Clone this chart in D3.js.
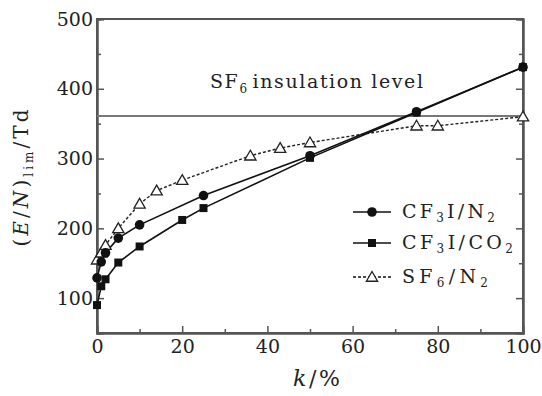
<!DOCTYPE html>
<html>
<head>
<meta charset="utf-8">
<script src="https://cdn.jsdelivr.net/npm/d3@7"></script>
<style>
  body { margin: 0; background: #fff; }
  text { font-family: "DejaVu Serif", "Liberation Serif", serif; fill: #222; }
</style>
</head>
<body>
<div id="chart"></div>
<script>
// data
var kN2 = [0, 1, 2, 5, 10, 25, 50, 75, 100];
var cf3iN2 = [129, 152, 165, 186, 205, 247, 304, 367, 431];
var kCO2 = [0, 1, 2, 5, 10, 20, 25, 50, 75, 100];
var cf3iCO2 = [90, 117, 127, 151, 174, 212, 229, 301, 366, 431];
var kSF6 = [0, 1, 2, 5, 10, 14, 20, 36, 43, 50, 75, 80, 100];
var sf6N2 = [155, 165, 176, 200, 235, 254, 269, 304, 315, 323, 347, 347, 360];
var sf6Level = 361;
var xTicks = [0, 20, 40, 60, 80, 100];
var yTicks = [100, 200, 300, 400, 500];
var seriesNames = ["CF3I/N2", "CF3I/CO2", "SF6/N2"];

var W = 542, H = 396;
var margin = {top: 19, right: 19, bottom: 63, left: 97};
var width = W - margin.left - margin.right;
var height = H - margin.top - margin.bottom;

var svg = d3.select("#chart")
  .append("svg")
    .attr("width", W)
    .attr("height", H)
  .append("g")
    .attr("transform", "translate(" + margin.left + "," + margin.top + ")");

var x = d3.scaleLinear().domain([0, 100]).range([0, width]);
var y = d3.scaleLinear().domain([50, 500]).range([height, 0]);

var axisColor = "#555";

// frame
svg.append("rect")
  .attr("width", width).attr("height", height)
  .attr("fill", "none").attr("stroke", axisColor).attr("stroke-width", 2);

// x axis, ticks pointing in
svg.append("g")
  .attr("transform", "translate(0," + height + ")")
  .call(d3.axisBottom(x).tickValues(xTicks).tickSize(-7).tickPadding(7));
svg.append("g")
  .attr("transform", "translate(0," + height + ")")
  .call(d3.axisBottom(x).tickValues([10, 30, 50, 70, 90]).tickSize(-4).tickFormat(""));

// y axis
svg.append("g")
  .call(d3.axisLeft(y).tickValues(yTicks).tickSize(-7).tickPadding(4));
svg.append("g")
  .call(d3.axisLeft(y).tickValues([150, 250, 350, 450]).tickSize(-4).tickFormat(""));
svg.append("g")
  .attr("transform", "translate(" + width + ",0)")
  .call(d3.axisRight(y).tickValues(yTicks).tickSize(-7).tickFormat(""));
svg.append("g")
  .attr("transform", "translate(" + width + ",0)")
  .call(d3.axisRight(y).tickValues([150, 250, 350, 450]).tickSize(-4).tickFormat(""));

svg.selectAll(".domain").attr("stroke", axisColor).attr("stroke-width", 2);
svg.selectAll(".tick line").attr("stroke", axisColor).attr("stroke-width", 1.5);
svg.selectAll(".tick text")
  .style("font-family", "'DejaVu Serif', serif")
  .style("font-size", "19px")
  .attr("fill", "#222");

// SF6 insulation level
svg.append("line")
  .attr("x1", 0).attr("x2", width)
  .attr("y1", y(sf6Level)).attr("y2", y(sf6Level))
  .attr("stroke", "#777").attr("stroke-width", 2);

var lvl = svg.append("text")
  .attr("x", 113).attr("y", 69)
  .attr("textLength", 213).attr("lengthAdjust", "spacing")
  .style("font-size", "19px");
lvl.append("tspan").text("SF");
lvl.append("tspan").attr("dy", 5).style("font-size", "12px").text("6");
lvl.append("tspan").attr("dy", -5).attr("dx", 4).text("insulation level");

var line = d3.line()
  .x(function(d) { return x(d[0]); })
  .y(function(d) { return y(d[1]); });

var dN2 = kN2.map(function(k, i) { return [k, cf3iN2[i]]; });
var dCO2 = kCO2.map(function(k, i) { return [k, cf3iCO2[i]]; });
var dSF6 = kSF6.map(function(k, i) { return [k, sf6N2[i]]; });

svg.append("path").datum(dSF6).attr("d", line)
  .attr("fill", "none").attr("stroke", "#222").attr("stroke-width", 1.4)
  .attr("stroke-dasharray", "3,2");
svg.append("path").datum(dCO2).attr("d", line)
  .attr("fill", "none").attr("stroke", "#111").attr("stroke-width", 1.6);
svg.append("path").datum(dN2).attr("d", line)
  .attr("fill", "none").attr("stroke", "#111").attr("stroke-width", 1.6);

var tri = d3.symbol().type(d3.symbolTriangle).size(55);
var sq = d3.symbol().type(d3.symbolSquare).size(64);

svg.selectAll(".tri").data(dSF6).enter().append("path")
  .attr("d", tri)
  .attr("transform", function(d) { return "translate(" + x(d[0]) + "," + (y(d[1]) + 1) + ")"; })
  .attr("fill", "#fff").attr("stroke", "#222").attr("stroke-width", 1.3);
svg.selectAll(".sq").data(dCO2).enter().append("path")
  .attr("d", sq)
  .attr("transform", function(d) { return "translate(" + x(d[0]) + "," + y(d[1]) + ")"; })
  .attr("fill", "#111");
svg.selectAll(".dot").data(dN2).enter().append("circle")
  .attr("cx", function(d) { return x(d[0]); })
  .attr("cy", function(d) { return y(d[1]); })
  .attr("r", 4.8)
  .attr("fill", "#111");

// legend
var leg = svg.append("g").attr("transform", "translate(256,193)");
var rowY = [0, 31, 65];
var textW = [93, 111, 86];
var markers = [
  function(g) { g.append("circle").attr("cx", 19).attr("r", 4.8).attr("fill", "#111"); },
  function(g) { g.append("path").attr("d", sq).attr("transform", "translate(19,0)").attr("fill", "#111"); },
  function(g) { g.append("path").attr("d", tri).attr("transform", "translate(19,1)").attr("fill", "#fff").attr("stroke", "#222").attr("stroke-width", 1.3); }
];
seriesNames.forEach(function(name, i) {
  var g = leg.append("g").attr("transform", "translate(0," + rowY[i] + ")");
  g.append("line").attr("x1", 0).attr("x2", 38)
    .attr("stroke", "#111").attr("stroke-width", i == 2 ? 1.3 : 1.6)
    .attr("stroke-dasharray", i == 2 ? "3,2" : null);
  markers[i](g);
  var t = g.append("text").attr("x", 49).attr("y", 6)
    .attr("textLength", textW[i]).attr("lengthAdjust", "spacing")
    .style("font-size", "19px");
  var parts = [
    [["CF", 0], ["3", 1], ["I/N", 0], ["2", 1]],
    [["CF", 0], ["3", 1], ["I/CO", 0], ["2", 1]],
    [["SF", 0], ["6", 1], ["/N", 0], ["2", 1]]
  ][i];
  parts.forEach(function(p, j) {
    var s = t.append("tspan").text(p[0]);
    if (p[1]) s.attr("dy", 4).style("font-size", "12px");
    else if (j > 0) s.attr("dy", -4);
  });
});

// axis labels
var xl = svg.append("text")
  .attr("x", 196).attr("y", 367)
  .attr("textLength", 47).attr("lengthAdjust", "spacing")
  .style("font-size", "22px");
xl.append("tspan").style("font-style", "italic").text("k");
xl.append("tspan").text("/%");

var yl = svg.append("text")
  .attr("transform", "translate(-69,159) rotate(-90)")
  .attr("text-anchor", "middle")
  .attr("textLength", 137).attr("lengthAdjust", "spacing")
  .style("font-size", "20px");
yl.append("tspan").text("(");
yl.append("tspan").style("font-style", "italic").text("E");
yl.append("tspan").text("/");
yl.append("tspan").style("font-style", "italic").text("N");
yl.append("tspan").text(")");
yl.append("tspan").attr("dy", 5).style("font-size", "12px").text("lim");
yl.append("tspan").attr("dy", -5).text("/Td");
</script>
</body>
</html>
